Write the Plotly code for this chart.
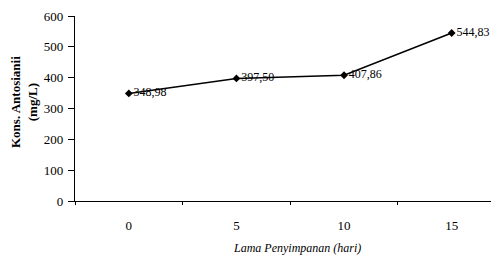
import plotly.graph_objects as go

days = ["0", "5", "10", "15"]
anthocyanin = [348.98, 397.50, 407.86, 544.83]
labels = ["348,98", "397,50", "407,86", "544,83"]
y_ticks = [0, 100, 200, 300, 400, 500, 600]

serif = "Liberation Serif, Times New Roman, serif"

fig = go.Figure()
fig.add_trace(go.Scatter(
    x=days, y=anthocyanin, mode="lines+markers+text",
    text=labels, textposition="middle right",
    textfont=dict(family=serif, size=12, color="black"),
    line=dict(color="black", width=1.5),
    marker=dict(symbol="diamond", size=6, color="black"),
    cliponaxis=False, showlegend=False,
))

# page body has an 8px default margin, so offsets compensate for it
fig.update_layout(
    width=499, height=264,
    margin=dict(l=67, r=8, t=8, b=71, autoexpand=False),
    paper_bgcolor="white", plot_bgcolor="white",
    font=dict(family=serif, size=12, color="black"),
    xaxis=dict(
        type="category", range=[-0.5, 3.44], automargin=False,
        showline=True, linecolor="black", linewidth=1.2,
        ticks="outside", ticklen=3, tickcolor="black", tickson="boundaries",
        showgrid=False, zeroline=False, ticklabelstandoff=12,
        tickfont=dict(family=serif, size=13, color="black"),
    ),
    yaxis=dict(
        range=[0, 600], tickvals=y_ticks, automargin=False,
        showline=True, linecolor="black", linewidth=1.2,
        ticks="outside", ticklen=6, tickcolor="black",
        showgrid=False, zeroline=False, ticklabelstandoff=2,
        tickfont=dict(family=serif, size=13, color="black"),
    ),
    annotations=[
        dict(text="<i>Lama Penyimpanan (hari)</i>", xref="paper", yref="paper",
             x=(297 - 75) / 424, y=-(248 - 201) / 185, showarrow=False,
             xanchor="center", yanchor="middle",
             font=dict(family=serif, size=12, color="black")),
        dict(text="<b>Kons. Antosianii</b><br><b>(mg/L)</b>", xref="paper", yref="paper",
             x=-(75 - 24) / 424, y=(201 - 102) / 185, showarrow=False, textangle=-90,
             xanchor="center", yanchor="middle",
             font=dict(family=serif, size=13, color="black")),
    ],
)

fig.write_html("out.html")
